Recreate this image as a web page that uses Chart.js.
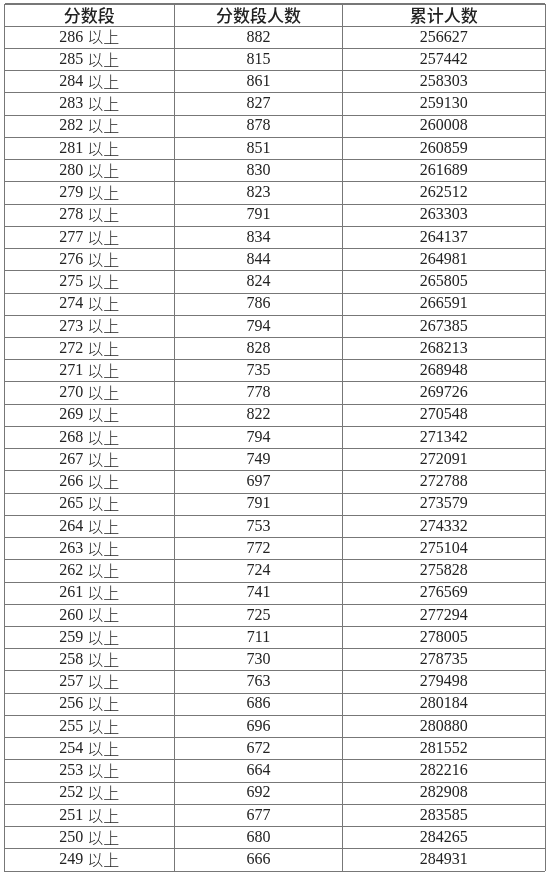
<!DOCTYPE html>
<html><head><meta charset="utf-8">
<script src="https://cdn.jsdelivr.net/npm/chart.js"></script>
<style>html,body{margin:0;background:#fff}</style></head>
<body><canvas id="c" width="550" height="875"></canvas>
<script>
const headers = ["分数段","分数段人数","累计人数"];
const scores = [286,285,284,283,282,281,280,279,278,277,276,275,274,273,272,271,270,269,268,267,266,265,264,263,262,261,260,259,258,257,256,255,254,253,252,251,250,249];
const counts = [882,815,861,827,878,851,830,823,791,834,844,824,786,794,828,735,778,822,794,749,697,791,753,772,724,741,725,711,730,763,686,696,672,664,692,677,680,666];
const cumul = [256627,257442,258303,259130,260008,260859,261689,262512,263303,264137,264981,265805,266591,267385,268213,268948,269726,270548,271342,272091,272788,273579,274332,275104,275828,276569,277294,278005,278735,279498,280184,280880,281552,282216,282908,283585,284265,284931];
const colEdges = [0,170,338,540];
const rowLabels = ["h"].concat(scores.map(String));

const textPlugin = {
  id:'tableText',
  afterDraw(chart){
    const ctx = chart.ctx, xs = chart.scales.x, ys = chart.scales.y;
    const cx = i => (xs.getPixelForValue(colEdges[i]) + xs.getPixelForValue(colEdges[i+1]))/2;
    ctx.save();
    ctx.fillStyle = '#222';
    ctx.textAlign = 'center'; ctx.textBaseline = 'middle';
    ctx.font = '500 17px "Noto Sans CJK SC"';
    headers.forEach((h,i)=>ctx.fillText(h, cx(i), ys.getPixelForValue(0)));
    scores.forEach((s,r)=>{
      const y = ys.getPixelForValue(r+1);
      ctx.font = '16px "Liberation Serif"';
      const a = s + ' ';
      ctx.font = '16px "Liberation Serif"'; const wa = ctx.measureText(a).width;
      ctx.font = '16px "Noto Sans CJK SC"'; const wb = ctx.measureText('以上').width;
      let x0 = cx(0) - (wa+wb)/2;
      ctx.textAlign='left';
      ctx.font = '16px "Liberation Serif"'; ctx.fillText(a, x0, y);
      ctx.font = '300 16px "Noto Sans CJK SC"'; ctx.fillText('以上', x0+wa, y);
      ctx.textAlign='center';
      ctx.font = '16px "Liberation Serif"';
      ctx.fillText(String(counts[r]), cx(1), y);
      ctx.fillText(String(cumul[r]), cx(2), y);
    });
    ctx.restore();
  }
};

new Chart(document.getElementById('c'), {
  type:'scatter',
  data:{labels:rowLabels, datasets:[{data:[], pointRadius:0}]},
  options:{
    responsive:false, animation:false, devicePixelRatio:1,
    layout:{padding:{left:4,right:5,top:4,bottom:4}},
    plugins:{legend:{display:false},tooltip:{enabled:false}},
    scales:{
      x:{type:'linear', min:0, max:540, position:'top',
         afterBuildTicks(s){ s.ticks = colEdges.map(v=>({value:v})); },
         ticks:{display:false}, grid:{color:'#777', lineWidth:1, drawTicks:false},
         border:{display:true, color:'#777'}},
      y:{type:'category', labels:rowLabels, offset:true,
         ticks:{display:false}, grid:{offset:true, color:'#777', lineWidth:1, drawTicks:false},
         border:{display:true, color:'#777'}}
    }
  },
  plugins:[textPlugin]
});
</script></body></html>
